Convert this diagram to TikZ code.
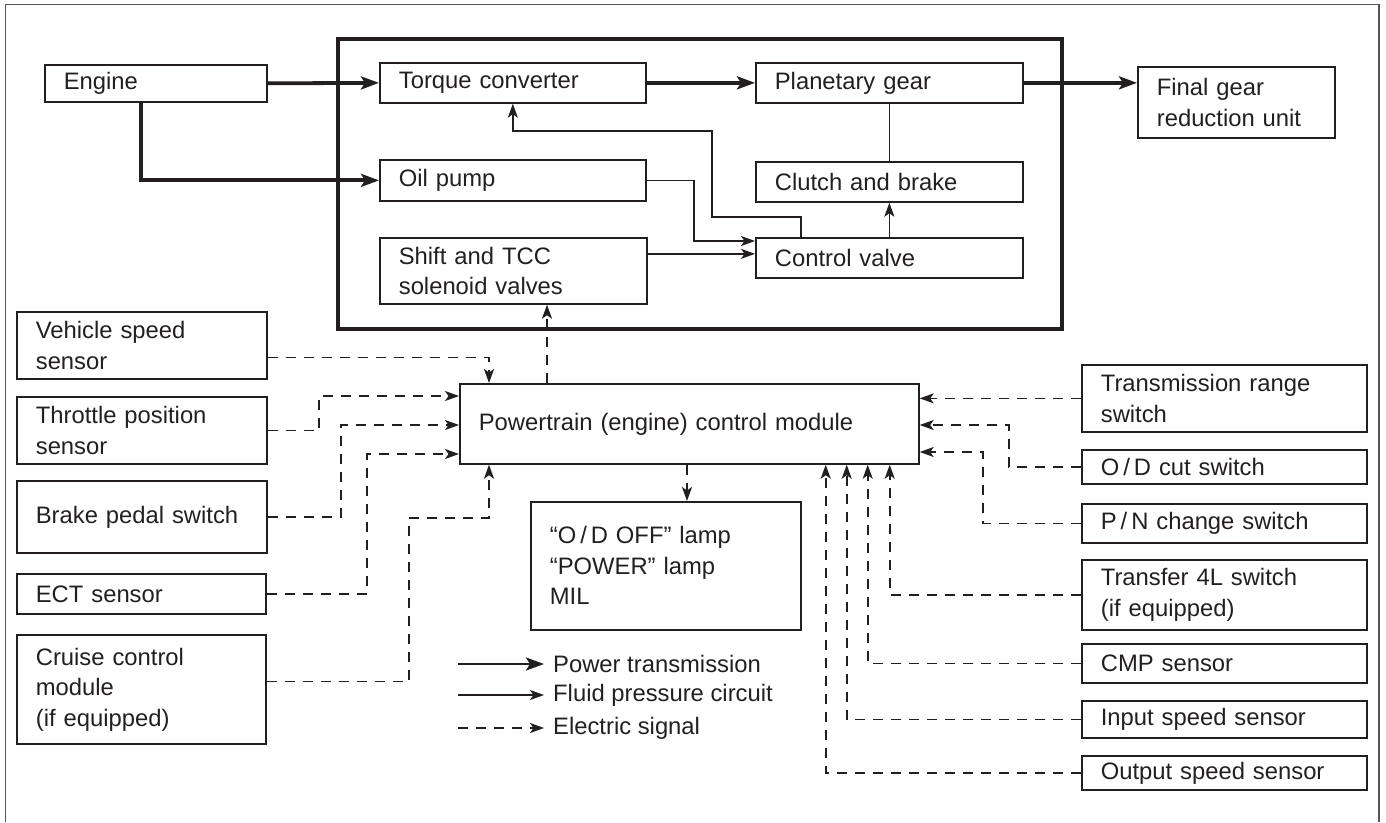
\documentclass[tikz,border=0pt]{standalone}
\usepackage{fontspec}
\setmainfont{Liberation Sans}
\usepackage{tikz}
\usetikzlibrary{arrows.meta}
\tikzstyle{diagram} = [x = 1pt, y = -1pt]
\definecolor{lineColor}{RGB}{35,31,32}
\definecolor{frameColor}{RGB}{85,85,85}
\tikzstyle{unitBox} = [draw=lineColor, line width=1.7pt, anchor=north west, inner xsep=19pt, inner ysep=0pt, align=left, text=lineColor, font=\fontsize{23.8}{30.5}\selectfont]
\tikzstyle{legendText} = [anchor=west, inner xsep=9pt, text=lineColor, font=\fontsize{23.8}{30}\selectfont]
\tikzstyle{powerLine} = [draw=lineColor, line width=3.8pt, -{Stealth[length=18pt, width=13pt, inset=4pt]}]
\tikzstyle{fluidLine} = [draw=lineColor, line width=1.6pt, -{Stealth[length=14pt, width=10pt, inset=3.5pt]}]
\tikzstyle{plainLine} = [draw=lineColor, line width=1.6pt]
\tikzstyle{signalLine} = [fluidLine, dash pattern=on 10pt off 8pt]
\tikzstyle{transBox} = [draw=lineColor, line width=3.2pt]
\tikzstyle{frameLine} = [draw=frameColor, line width=1.8pt]
\newcommand{\unitNode}[6]{
  \pgfmathsetmacro{\unitText}{#4 - 38}
  \node [unitBox, text width=\unitText pt, minimum height=#5 pt] (#1) at (#2,#3) {#6};
}

\begin{document}
\begin{tikzpicture}[diagram]
\useasboundingbox (0,0) rectangle (1386,822);
\draw [frameLine] (5.5,822) -- (5.5,4.5) -- (1379,4.5) -- (1379,822);
\draw [transBox] (338,39) rectangle (1062,329);
% power train
\unitNode{engine}{44}{64}{222}{37}{Engine}
\unitNode{tc}{379}{62}{266}{40}{Torque converter}
\unitNode{pg}{755}{62}{267}{40}{Planetary gear}
\unitNode{fg}{1137}{66}{197}{71}{Final gear\\reduction unit}
\unitNode{oil}{379}{159}{266}{41}{Oil pump}
\unitNode{cb}{755}{161}{267}{40}{Clutch and brake}
\unitNode{shift}{379}{237}{267}{66}{Shift and TCC\\solenoid valves}
\unitNode{cv}{755}{237}{267}{40}{Control valve}
% inputs and outputs
\unitNode{vss}{16}{311}{250}{67}{Vehicle speed\\sensor}
\unitNode{tps}{16}{396}{250}{67}{Throttle position\\sensor}
\unitNode{bps}{16}{480}{250}{72}{Brake pedal switch}
\unitNode{ect}{16}{573}{249}{40}{ECT sensor}
\unitNode{ccm}{16}{634}{249}{109}{Cruise control\\module\\(if equipped)}
\unitNode{pcm}{459}{383}{459}{80}{Powertrain (engine) control module}
\unitNode{lamp}{530}{501}{270}{128}{“O\,/\,D OFF” lamp\\“POWER” lamp\\MIL}
\unitNode{trs}{1081}{364}{285}{67}{Transmission range\\switch}
\unitNode{odc}{1081}{449}{285}{34}{O\,/\,D cut switch}
\unitNode{pn}{1081}{503}{285}{39}{P\,/\,N change switch}
\unitNode{tfs}{1081}{559}{285}{70}{Transfer 4L switch\\(if equipped)}
\unitNode{cmp}{1081}{643}{285}{39}{CMP sensor}
\unitNode{iss}{1081}{700}{285}{37}{Input speed sensor}
\unitNode{oss}{1081}{755}{285}{34}{Output speed sensor}
\coordinate (oilBend) at (694,241);
\coordinate (tcLoopLow) at (712,217);
\coordinate (tcLoopHigh) at (712,131);
\coordinate (tpsBend) at (319,396);
\coordinate (bpsBend) at (341,425);
\coordinate (ectBend) at (367,454);
\coordinate (ccmBend) at (409,518);
\coordinate (odcBend) at (1009,425);
\coordinate (pnBend) at (983,452);
\coordinate (pcmToShift) at ([xshift=88pt]pcm.north west);
\coordinate (pcmToLamp) at ([xshift=228pt]pcm.south west);
\draw [powerLine] (engine.east) -- (tc.west);
\draw [powerLine] ([xshift=97pt]engine.south west) |- (oil.west);
\draw [powerLine] (tc.east) -- (pg.west);
\draw [powerLine] (pg.east) -- (pg.east -| fg.west);
\draw [plainLine] (pg.south) -- (cb.north);
\draw [fluidLine] (cv.north) -- (cb.south);
\draw [fluidLine] (oil.east) -| (oilBend) -- (oilBend -| cv.west);
\draw [fluidLine] ([yshift=17pt]shift.east) -- ([yshift=17pt]shift.east -| cv.west);
\draw [fluidLine] ([xshift=46pt]cv.north west) |- (tcLoopLow) -- (tcLoopHigh) -| (tc.south);
\draw [signalLine] ([yshift=-12pt]vss.east) -| ([xshift=30pt]pcm.north west);
\draw [signalLine] (tps.east) -| (tpsBend) -- (tpsBend -| pcm.west);
\draw [signalLine] (bps.east) -| (bpsBend) -- (bpsBend -| pcm.west);
\draw [signalLine] (ect.east) -| (ectBend) -- (ectBend -| pcm.west);
\draw [signalLine] ([yshift=8pt]ccm.east) -| (ccmBend) -| ([xshift=30pt]pcm.south west);
\draw [signalLine] (pcmToShift) -- (pcmToShift |- shift.south);
\draw [signalLine] (pcmToLamp) -- (pcmToLamp |- lamp.north);
\draw [signalLine] (trs.west) -- (trs.west -| pcm.east);
\draw [signalLine] (odc.west) -| (odcBend) -- (odcBend -| pcm.east);
\draw [signalLine] (pn.west) -| (pnBend) -- (pnBend -| pcm.east);
\draw [signalLine] (tfs.west) -| ([xshift=-30pt]pcm.south east);
\draw [signalLine] (cmp.west) -| ([xshift=-52pt]pcm.south east);
\draw [signalLine] (iss.west) -| ([xshift=-73pt]pcm.south east);
\draw [signalLine] (oss.west) -| ([xshift=-94pt]pcm.south east);
% legend
\coordinate (legPowerStart) at (458,664);
\coordinate (legFluidStart) at (458,695);
\coordinate (legSignalStart) at (458,728);
\node [legendText] (legPower) at (544,664) {Power transmission};
\node [legendText] (legFluid) at (544,695) {Fluid pressure circuit};
\node [legendText] (legSignal) at (544,728) {Electric signal};
\draw [powerLine, line width=2.8pt] (legPowerStart) -- (legPower.west);
\draw [fluidLine] (legFluidStart) -- (legFluid.west);
\draw [signalLine] (legSignalStart) -- (legSignal.west);
\end{tikzpicture}
\end{document}
